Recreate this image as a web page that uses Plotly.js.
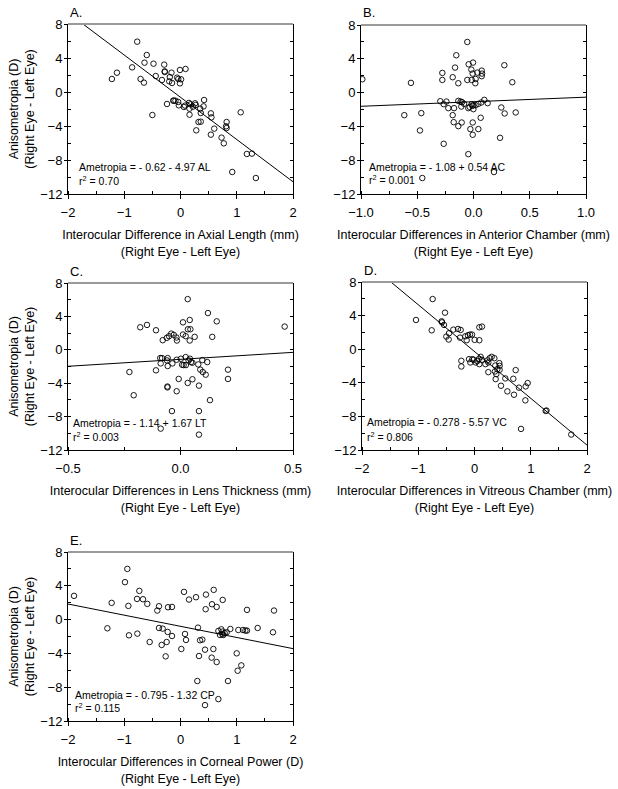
<!DOCTYPE html>
<html>
<head>
<meta charset="utf-8">
<script src="https://cdn.plot.ly/plotly-3.0.1.min.js"></script>
<style>html,body{margin:0;padding:0;background:#fff;}#chart{width:618px;height:789px;}</style>
</head>
<body>
<div id="chart"></div>
<script>
// ---------- data ----------
const axialX = [-0.77,-0.60,-0.64,-0.48,-0.29,-0.28,-0.28,-0.86,-1.13,-1.22,-0.71,-0.65,-0.44,-0.33,-0.16,-0.19,-0.20,-0.15,-0.06,-0.04,-0.01,0.09,0.01,-0.01,-0.13,-0.12,-0.09,-0.04,-0.24,-0.03,0.06,0.08,0.15,0.18,0.16,0.16,0.26,0.27,0.22,0.35,0.41,0.42,0.36,0.32,0.36,0.28,0.54,0.55,0.60,0.54,0.82,0.82,0.81,0.73,0.77,1.07,1.18,1.27,0.92,1.34,-0.50];
const axialY = [5.92,4.35,3.45,3.33,3.22,2.43,2.35,2.9,2.27,1.53,1.53,1.1,1.88,1.41,2.27,1.76,1.25,1.06,1.69,1.53,2.59,2.71,1.49,1.02,-1.02,-1.02,-1.02,-1.18,-1.41,-1.57,-1.76,-1.6,-1.29,-1.45,-1.96,-2.67,-1.33,-1.53,-1.73,-1.96,-1.69,-0.94,-2.47,-3.53,-3.49,-4.51,-2.51,-2.98,-4.31,-5.02,-3.53,-4.24,-4.04,-5.37,-6.04,-2.39,-7.29,-7.25,-9.41,-10.12,-2.71];

const anteriorX = [-0.055,-0.153,-0.043,-0.004,0.274,-0.164,-0.277,-0.019,0.073,0.034,0.076,0.073,-0.007,-0.185,-0.277,-0.055,-0.016,0.019,0.016,-0.135,-0.988,-0.556,0.345,-0.295,-0.241,-0.265,-0.224,-0.173,-0.135,-0.114,-0.102,-0.108,-0.084,-0.046,-0.034,-0.016,-0.001,-0.001,-0.01,0.019,0.043,0.07,0.096,0.126,0.247,0.277,0.375,-0.464,-0.615,-0.185,-0.176,-0.135,-0.105,-0.007,0.064,-0.028,0.043,-0.007,-0.476,-0.265,0.236,-0.046,0.182,-0.455];
const anteriorY = [5.99,4.42,3.35,3.55,3.24,2.96,2.33,2.72,2.6,2.37,2.25,1.94,2.25,1.82,1.5,1.5,1.5,1.62,1.11,1.11,1.58,1.15,1.23,-1.02,-1.06,-1.37,-1.84,-1.84,-0.98,-1.06,-1.13,-1.65,-1.33,-1.84,-1.69,-1.37,-1.49,-1.96,-1.57,-1.49,-1.33,-1.17,-0.86,-1.25,-1.76,-2.47,-2.35,-2.43,-2.67,-2.67,-3.5,-3.97,-3.54,-3.54,-2.98,-4.32,-4.32,-4.99,-4.48,-6.06,-5.35,-7.28,-9.4,-10.11];

const lensX = [0.032,0.122,0.041,0.161,0.033,0.044,0.011,-0.179,-0.149,-0.109,0.463,-0.041,-0.030,-0.051,-0.061,-0.079,-0.018,-0.016,0.011,0.023,0.063,0.041,0.141,-0.09,-0.082,-0.088,-0.057,-0.06,-0.057,-0.036,-0.017,0.002,0.007,0.014,0.023,0.024,0.036,0.042,0.047,0.053,0.079,0.097,0.119,0.088,0.099,0.112,0.211,-0.227,-0.109,-0.008,0.053,0.032,0.211,-0.058,-0.058,0.082,-0.017,-0.208,0.131,-0.038,0.082,-0.088,0.082];
const lensY = [6.07,4.4,3.57,3.41,2.46,2.46,3.29,2.7,2.98,2.34,2.78,1.94,1.79,1.63,1.43,1.15,1.47,1.11,1.83,1.63,1.55,1.11,1.55,-0.99,-0.99,-1.63,-0.99,-1.27,-1.94,-1.63,-1.19,-1.07,-1.79,-1.83,-0.87,-1.83,-1.27,-1.07,-1.47,-1.55,-1.75,-1.23,-1.47,-2.38,-2.66,-2.98,-2.38,-2.66,-2.46,-3.49,-3.53,-3.97,-3.49,-4.4,-4.5,-4.29,-4.96,-5.44,-6.03,-7.34,-7.34,-9.44,-10.16];

const vitreousX = [-0.744,-0.524,-1.04,-0.584,-0.578,-0.542,-0.761,-0.376,-0.293,-0.246,-0.453,-0.501,-0.459,-0.258,-0.163,-0.116,-0.08,-0.044,-0.139,0.003,0.086,0.086,0.133,-0.234,-0.234,-0.098,-0.074,-0.039,-0.015,0.021,0.05,0.074,0.086,0.11,0.133,0.193,0.228,0.246,0.27,0.305,0.353,0.246,0.37,0.406,0.441,0.447,0.364,0.388,0.376,0.447,0.548,0.471,0.584,0.702,0.69,0.732,0.791,0.91,0.945,0.904,0.827,1.265,1.28,1.72];
const vitreousY = [5.97,4.35,3.48,3.32,3.2,2.89,2.25,2.33,2.41,2.29,1.9,1.5,1.15,1.38,1.54,1.66,1.74,1.74,1.07,1.11,1.07,2.61,2.69,-1.38,-2.06,-1.19,-1.58,-1.19,-1.26,-1.58,-1.42,-1.19,-1.78,-0.91,-1.26,-1.78,-1.34,-1.58,-1.07,-0.91,-1.07,-2.73,-1.94,-2.37,-1.66,-1.98,-2.65,-2.96,-3.56,-2.45,-3.48,-4.35,-5.02,-5.42,-3.52,-2.49,-4.58,-4.43,-4.03,-6.09,-9.49,-7.35,-7.3,-10.16];

const cornealX = [-0.945,-0.987,-0.732,-1.893,-1.224,-0.927,-0.773,-0.667,-0.59,-0.412,-0.382,-0.222,-0.151,0.062,0.151,0.276,0.453,0.59,0.56,0.447,0.643,0.75,1.182,1.662,-1.30,-0.916,-0.767,-0.548,-0.382,-0.317,-0.228,-0.151,-0.335,-0.246,-0.264,0.015,0.08,0.098,0.311,0.347,0.388,0.436,0.329,0.584,0.554,0.643,0.299,0.436,0.673,0.844,0.999,1.016,1.081,0.673,0.726,0.744,0.702,0.762,0.785,0.744,0.821,0.886,1.028,1.111,1.153,1.182,1.372,1.644];
const cornealY = [6.0,4.43,3.4,2.81,1.98,1.62,2.45,2.41,1.86,1.07,1.58,1.46,1.5,3.28,2.37,2.65,2.96,3.52,1.82,1.23,1.5,2.33,1.15,1.07,-1.03,-1.86,-1.66,-2.65,-0.99,-1.07,-1.46,-1.94,-3.0,-2.65,-4.35,-3.48,-1.7,-2.41,-0.95,-2.45,-2.37,-3.56,-4.31,-3.48,-4.5,-5.02,-7.27,-10.12,-9.41,-7.27,-3.99,-6.05,-5.42,-1.34,-1.15,-1.42,-1.82,-1.82,-1.58,-1.74,-1.5,-1.11,-1.23,-1.23,-1.3,-1.3,-0.99,-1.5];

// regression coefficients (intercept, slope) as printed in each panel
const intercepts = [-0.62, -1.08, -1.14, -0.278, -0.795];
const slopes = [-4.97, 0.54, 1.67, -5.57, -1.32];
const panelLabels = ['A.', 'B.', 'C.', 'D.', 'E.'];
const equationTexts = [
  'Ametropia = - 0.62 - 4.97 AL',
  'Ametropia = - 1.08 + 0.54 AC',
  'Ametropia = - 1.14 + 1.67 LT',
  'Ametropia = - 0.278 - 5.57 VC',
  'Ametropia = - 0.795 - 1.32 CP'
];
const r2Texts = ['0.70', '0.001', '0.003', '0.806', '0.115'];
const xTitles = [
  'Interocular Difference in Axial Length (mm)',
  'Interocular Differences in Anterior Chamber (mm)',
  'Interocular Differences in Lens Thickness (mm)',
  'Interocular Differences in Vitreous Chamber (mm)',
  'Interocular Differences in Corneal Power (D)'
];
const xTitleSub = '(Right Eye - Left Eye)';
const yTitle = 'Anisometropia (D)<br>(Right Eye - Left Eye)';

// ---------- layout config ----------
const xsData = [axialX, anteriorX, lensX, vitreousX, cornealX];
const ysData = [axialY, anteriorY, lensY, vitreousY, cornealY];
const xRanges = [[-2, 2], [-1, 1], [-0.5, 0.5], [-2, 2], [-2, 2]];
const xDticks = [1, 0.5, 0.5, 1, 1];
const xMinor = [0.5, 0.25, 0.25, 0.5, 0.5];
const xFormats = ['', '.1f', '.1f', '', ''];
const W = 618, H = 789;
// plot-area pixel boxes [left, right, top, bottom]
const boxes = [[68, 293, 24, 194], [361, 586, 25, 194], [68, 293, 283, 450], [362, 587, 282, 450], [68, 293, 552, 721]];
const showYTitle = [true, false, true, false, true];
const eqPos = [[0.04, 0.159, 0.082], [0.027, 0.16, 0.083], [0.013, 0.162, 0.078], [0.013, 0.167, 0.083], [0.022, 0.154, 0.077]];

const FONT = 'Liberation Sans, Arial, Helvetica, sans-serif';
const traces = [];
const layout = {
  width: W, height: H,
  margin: {l: 0, r: 0, t: 0, b: 0},
  paper_bgcolor: '#fff', plot_bgcolor: '#fff',
  showlegend: false,
  font: {family: FONT, size: 12, color: '#000'},
  annotations: [], shapes: []
};

for (let i = 0; i < 5; i++) {
  const n = i + 1;
  const xa = 'x' + (n === 1 ? '' : n), ya = 'y' + (n === 1 ? '' : n);
  const yr = 'y' + (n + 5);
  const [l, r, t, b] = boxes[i];
  const xdom = [l / W, r / W], ydom = [1 - b / H, 1 - t / H];

  traces.push({
    type: 'scatter', mode: 'markers', x: xsData[i], y: ysData[i], xaxis: xa, yaxis: ya,
    marker: {symbol: 'circle-open', size: 5.5, color: '#000', line: {width: 0.9, color: '#000'}},
    hoverinfo: 'skip'
  });
  const lx = xRanges[i];
  traces.push({
    type: 'scatter', mode: 'lines', x: lx, y: lx.map(v => intercepts[i] + slopes[i] * v),
    xaxis: xa, yaxis: ya, line: {color: '#000', width: 1}, hoverinfo: 'skip'
  });
  // carrier for the right-hand tick axis
  traces.push({type: 'scatter', mode: 'markers', x: [], y: [], xaxis: xa, yaxis: yr, hoverinfo: 'skip'});

  layout['xaxis' + (n === 1 ? '' : n)] = {
    domain: xdom, anchor: ya, range: xRanges[i], dtick: xDticks[i], tick0: 0,
    tickformat: xFormats[i], ticks: 'outside', ticklen: 4, tickwidth: 1, tickcolor: '#000',
    showline: true, linecolor: '#000', linewidth: 1, showgrid: false, zeroline: false,
    tickfont: {size: 13}, ticklabelstandoff: 2,
    minor: {dtick: xMinor[i], ticks: 'inside', ticklen: 3, tickwidth: 1, tickcolor: '#000', showgrid: false},
    title: {text: xTitles[i] + '<br>' + xTitleSub, font: {size: 12.5}, standoff: 11.5},
    automargin: false, fixedrange: true
  };
  layout['yaxis' + (n === 1 ? '' : n)] = {
    domain: ydom, anchor: xa, range: [-12, 8], dtick: 4, tick0: 0,
    ticks: 'outside', ticklen: 3, tickwidth: 1, tickcolor: '#000',
    showline: true, linecolor: '#000', linewidth: 1, showgrid: false, zeroline: false,
    tickfont: {size: 13}, ticklabelstandoff: -1,
    minor: {dtick: 2, ticks: 'inside', ticklen: 3, tickwidth: 1, tickcolor: '#000', showgrid: false},
    title: showYTitle[i] ? {text: yTitle, font: {size: 12.5}, standoff: 2} : {text: ''},
    automargin: false, fixedrange: true
  };
  layout['yaxis' + (n + 5)] = {
    overlaying: ya, anchor: xa, side: 'right', range: [-12, 8], dtick: 2, tick0: 0,
    ticks: 'inside', ticklen: 3, tickwidth: 1, tickcolor: '#000', showticklabels: false,
    showline: true, linecolor: '#000', linewidth: 1, showgrid: false, zeroline: false,
    automargin: false, fixedrange: true
  };
  // grey top frame line
  layout.shapes.push({type: 'line', xref: xa + ' domain', yref: ya + ' domain', x0: 0, x1: 1, y0: 1, y1: 1,
    line: {color: '#9a9a9a', width: 2}});
  // panel letter
  layout.annotations.push({text: panelLabels[i], xref: 'paper', yref: 'paper', x: l / W, y: 1 - (t - 12) / H,
    xanchor: 'left', yanchor: 'middle', showarrow: false, font: {size: 13}});
  // regression text
  layout.annotations.push({text: equationTexts[i], xref: xa + ' domain', yref: ya + ' domain',
    x: eqPos[i][0], y: eqPos[i][1], xanchor: 'left', yanchor: 'middle', showarrow: false, font: {size: 10.5}});
  layout.annotations.push({text: 'r<sup>2</sup> = ' + r2Texts[i], xref: xa + ' domain', yref: ya + ' domain',
    x: eqPos[i][0], y: eqPos[i][2], xanchor: 'left', yanchor: 'middle', showarrow: false, font: {size: 10.5}});
}

Plotly.newPlot('chart', traces, layout, {staticPlot: true, displayModeBar: false});
</script>
</body>
</html>
